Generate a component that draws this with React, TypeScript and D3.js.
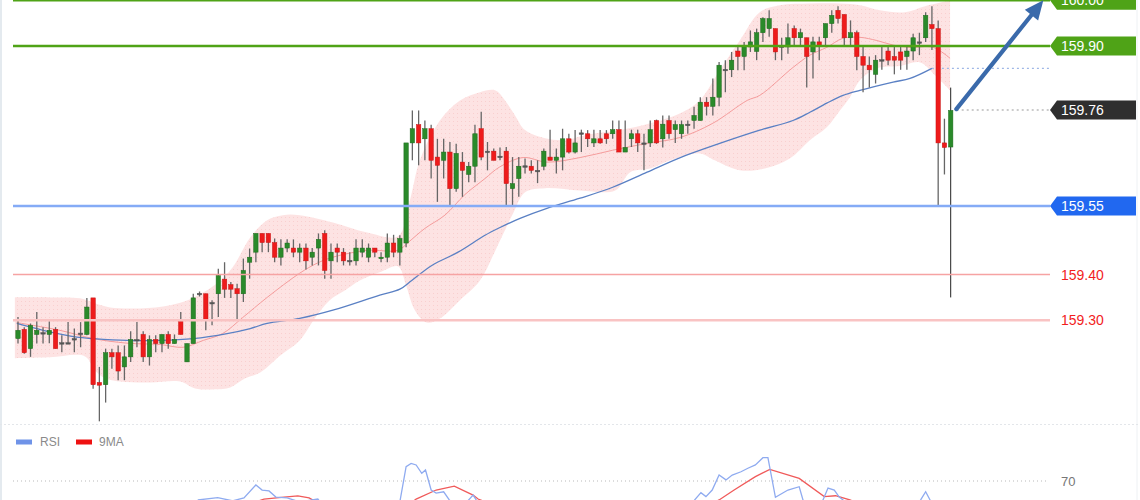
import React from "react";
import * as d3 from "d3";

// ---------- DATA ----------
const opens = [
159.260,159.280,159.238,159.269,159.272,159.269,159.280,159.251,159.250,159.259,
159.270,159.269,159.349,159.164,159.159,159.229,159.229,159.198,159.220,159.257,
159.269,159.220,159.258,159.249,159.269,159.249,159.298,159.209,159.249,159.358,
159.358,159.339,159.358,159.390,159.378,159.369,159.358,159.427,159.449,159.490,
159.490,159.470,159.438,159.458,159.458,159.449,159.458,159.438,159.458,159.490,
159.430,159.458,159.449,159.430,159.430,159.449,159.438,159.458,159.435,159.438,
159.469,159.449,159.469,159.688,159.728,159.697,159.719,159.657,159.650,159.668,
159.588,159.646,159.619,159.637,159.719,159.670,159.670,159.659,159.670,159.588,
159.610,159.637,159.637,159.628,159.637,159.657,159.650,159.657,159.697,159.668,
159.710,159.708,159.688,159.697,159.708,159.708,159.717,159.668,159.697,159.708,
159.688,159.688,159.737,159.697,159.737,159.717,159.708,159.728,159.737,159.737,
159.777,159.768,159.788,159.848,159.848,159.889,159.877,159.898,159.888,159.929,
159.938,159.938,159.899,159.898,159.938,159.918,159.918,159.887,159.909,159.918,
159.949,159.978,159.969,159.918,159.929,159.877,159.858,159.838,159.869,159.889,
159.877,159.887,159.877,159.889,159.909,159.918,159.947,159.938,159.688,159.679];

const highs = [
159.307,159.285,159.293,159.318,159.285,159.298,159.285,159.267,159.296,159.282,
159.296,159.349,159.349,159.198,159.238,159.238,159.245,159.245,159.276,159.296,
159.276,159.267,159.267,159.269,159.276,159.269,159.318,159.249,159.358,159.363,
159.358,159.344,159.413,159.427,159.384,159.380,159.435,159.457,159.490,159.490,
159.490,159.479,159.477,159.477,159.477,159.468,159.468,159.458,159.490,159.497,
159.468,159.468,159.458,159.449,159.477,159.477,159.468,159.458,159.449,159.490,
159.487,159.486,159.688,159.759,159.759,159.737,159.728,159.697,159.697,159.690,
159.686,159.668,159.646,159.728,159.756,159.690,159.676,159.678,159.679,159.657,
159.657,159.654,159.650,159.650,159.676,159.717,159.676,159.719,159.708,159.716,
159.717,159.716,159.717,159.716,159.716,159.737,159.737,159.737,159.717,159.717,
159.708,159.737,159.739,159.748,159.748,159.737,159.737,159.737,159.767,159.788,
159.788,159.829,159.865,159.869,159.887,159.898,159.909,159.934,159.938,159.963,
159.978,159.938,159.918,159.949,159.945,159.938,159.918,159.920,159.920,159.949,
159.978,159.987,159.969,159.956,159.934,159.898,159.877,159.880,159.898,159.898,
159.898,159.898,159.898,159.927,159.929,159.974,159.987,159.956,159.741,159.809];

const lows = [
159.249,159.227,159.220,159.249,159.249,159.250,159.238,159.230,159.249,159.230,
159.241,159.267,159.150,159.079,159.120,159.194,159.169,159.169,159.209,159.241,
159.209,159.201,159.230,159.230,159.238,159.249,159.269,159.209,159.249,159.352,
159.278,159.289,159.307,159.349,159.349,159.300,159.340,159.391,159.427,159.449,
159.449,159.427,159.420,159.449,159.438,159.427,159.411,159.420,159.420,159.391,
159.391,159.427,159.420,159.420,159.420,159.438,159.427,159.438,159.427,159.427,
159.438,159.420,159.460,159.650,159.639,159.650,159.610,159.559,159.610,159.551,
159.581,159.570,159.602,159.602,159.650,159.628,159.650,159.650,159.551,159.548,
159.570,159.621,159.621,159.600,159.628,159.650,159.621,159.628,159.665,159.665,
159.668,159.679,159.679,159.686,159.686,159.697,159.668,159.668,159.679,159.668,
159.628,159.679,159.686,159.678,159.697,159.688,159.697,159.708,159.719,159.737,
159.748,159.748,159.768,159.799,159.832,159.847,159.847,159.887,159.869,159.909,
159.920,159.869,159.869,159.883,159.898,159.898,159.809,159.829,159.869,159.898,
159.929,159.949,159.898,159.898,159.847,159.799,159.809,159.818,159.848,159.858,
159.838,159.848,159.848,159.869,159.880,159.909,159.891,159.548,159.619,159.350];

const closes = [
159.278,159.229,159.289,159.278,159.273,159.278,159.238,159.250,159.251,159.260,
159.272,159.329,159.159,159.158,159.229,159.220,159.189,159.220,159.258,159.258,
159.220,159.258,159.249,159.269,159.249,159.258,159.269,159.249,159.349,159.359,
159.300,159.338,159.398,159.368,159.368,159.358,159.409,159.438,159.490,159.470,
159.470,159.438,159.458,159.469,159.449,159.458,159.430,159.449,159.477,159.409,
159.449,159.449,159.430,159.431,159.458,159.458,159.458,159.449,159.438,159.469,
159.449,159.479,159.688,159.719,159.688,159.719,159.650,159.639,159.668,159.588,
159.665,159.628,159.637,159.708,159.657,159.669,159.650,159.658,159.599,159.599,
159.637,159.638,159.628,159.627,159.670,159.650,159.657,159.697,159.668,159.688,
159.709,159.697,159.697,159.688,159.697,159.717,159.668,159.678,159.708,159.688,
159.687,159.717,159.688,159.729,159.708,159.728,159.728,159.729,159.748,159.777,
159.768,159.788,159.858,159.849,159.869,159.877,159.898,159.909,159.929,159.960,
159.960,159.887,159.900,159.918,159.918,159.929,159.877,159.909,159.899,159.949,
159.967,159.960,159.918,159.929,159.877,159.858,159.848,159.869,159.870,159.869,
159.869,159.869,159.889,159.918,159.908,159.967,159.938,159.688,159.678,159.759];

// Bollinger band edges as [candle index, price]
const bandUpper: [number, number][] = [
[-0.5,159.350],[5.1,159.350],[9.9,159.348],[12.3,159.337],[14.7,159.328],[19.5,159.326],
[24.3,159.333],[27.5,159.346],[31.8,159.381],[34.3,159.416],[37.1,159.481],[39.8,159.519],
[42.3,159.530],[45.0,159.530],[50.3,159.514],[55.8,159.492],[60.7,159.484],[62.6,159.562],
[64.2,159.650],[67.4,159.737],[70.6,159.781],[73.8,159.799],[76.2,159.803],[77.8,159.781],
[79.4,159.748],[81.0,159.716],[84.2,159.698],[87.4,159.694],[90.6,159.705],[96.2,159.716],
[101.0,159.731],[105.8,159.753],[108.9,159.781],[112.1,159.847],[115.3,159.912],[118.5,159.974],
[121.7,159.989],[126.5,159.993],[131.3,159.993],[134.5,159.989],[137.7,159.978],[141.7,159.974],
[144.9,159.987],[148.9,160.000]];

const bandLower: [number, number][] = [
[-0.5,159.217],[5.1,159.219],[10.7,159.221],[12.3,159.190],[13.9,159.173],[16.3,159.166],
[21.1,159.164],[25.9,159.166],[28.3,159.151],[31.5,159.149],[33.9,159.153],[36.3,159.173],
[38.7,159.186],[41.9,159.223],[45.0,159.256],[47.4,159.304],[49.8,159.344],[52.2,159.365],
[54.6,159.387],[57.8,159.405],[60.7,159.418],[62.0,159.376],[63.4,159.322],[65.3,159.295],
[67.4,159.304],[70.6,159.344],[73.8,159.387],[76.5,159.460],[79.1,159.534],[81.0,159.580],
[84.2,159.589],[89.8,159.584],[95.4,159.584],[97.8,159.624],[101.0,159.632],[104.2,159.650],
[108.9,159.665],[111.3,159.650],[115.3,159.628],[119.3,159.632],[123.3,159.654],[126.5,159.694],
[129.2,159.722],[131.3,159.759],[132.9,159.788],[134.5,159.825],[137.2,159.851],[140.9,159.856],
[144.1,159.864],[146.5,159.836],[148.9,159.803]];

// Middle band (red) and long moving average (blue)
const maRed: [number, number][] = [
[-0.2,159.295],[6.7,159.278],[12.0,159.260],[17.4,159.250],[22.7,159.247],[26.4,159.241],
[29.6,159.256],[32.7,159.271],[35.9,159.306],[39.8,159.350],[45.0,159.403],[47.8,159.425],
[50.3,159.438],[55.8,159.453],[60.7,159.453],[62.3,159.470],[65.0,159.501],[68.2,159.530],
[71.4,159.575],[74.6,159.610],[76.9,159.635],[80.7,159.656],[84.5,159.646],[89.8,159.656],
[95.0,159.672],[100.5,159.687],[105.8,159.700],[111.0,159.731],[116.5,159.781],[118.5,159.792],
[123.8,159.853],[126.5,159.880],[129.2,159.897],[131.8,159.917],[134.5,159.919],[137.2,159.912],
[139.8,159.902],[142.5,159.897],[146.2,159.897],[148.9,159.873]];

const maBlue: [number, number][] = [
[-0.2,159.293],[4.0,159.278],[9.4,159.263],[12.0,159.260],[17.4,159.256],[22.7,159.256],
[28.0,159.260],[33.4,159.271],[37.1,159.282],[39.8,159.293],[45.0,159.304],[50.3,159.322],
[57.8,159.355],[61.0,159.368],[62.9,159.387],[66.1,159.420],[70.3,159.449],[74.6,159.486],
[77.0,159.503],[80.2,159.523],[84.5,159.545],[89.8,159.567],[95.0,159.591],[100.5,159.624],
[105.8,159.656],[112.1,159.687],[118.5,159.716],[123.8,159.737],[126.5,159.755],[129.2,159.775],
[131.8,159.792],[134.5,159.803],[139.8,159.821],[142.5,159.829],[146.0,159.851]];

// RSI panel
const rsi: [number, number][] = [
[0,45],[27.5,55],[28.8,61.4],[31.9,62.4],[34.3,61.0],[36.1,62.3],[38.0,68.2],[39.0,65.9],
[40.1,65.5],[41.2,62.7],[43.0,62.3],[45.0,60.5],[47.9,61.8],[49.8,55],[57.8,50],[61.0,60.5],
[62.0,76.5],[62.8,78.0],[63.6,77.3],[64.5,73.5],[65.1,75.0],[66.0,65.9],[66.8,64.5],[68.0,65.1],
[68.9,61.4],[70.6,57],[72.7,63.6],[73.2,61.4],[75.4,55],[93,55],[107.3,58],[108.1,61.4],
[109.1,64.7],[109.9,62.9],[110.9,65.9],[112.0,72.7],[113.1,70.5],[114.1,72.7],[115.5,74.2],
[116.6,75.8],[117.8,77.3],[119.0,80.6],[119.8,80.6],[121.0,62.6],[123.0,65.9],[124.8,67.4],
[125.4,61.4],[126.8,56],[128.6,61.4],[129.4,66.8],[130.4,65.9],[131.2,62.7],[131.8,61.4],
[132.9,57],[143.3,58],[144.2,61.4],[145.0,65.1],[145.7,61.4],[146.6,52],[147.6,35],[148.9,42]];

const rsiMA: [number, number][] = [
[0,50],[35.5,58],[39.3,61.8],[42.5,62.7],[44.7,63.2],[46.5,62.3],[47.4,60.9],[51.4,58],
[61,56],[63.6,61.8],[66.8,65.9],[69.7,67.7],[72.7,63.6],[73.5,61.8],[77,58],[108.9,57],
[112,61.4],[114.4,65.9],[117.8,72.0],[120.1,75.3],[124.8,71.2],[128.8,62.9],[130.6,63.3],
[132.9,61.4],[136.1,58],[148.9,54]];

const levelValues = [160.0, 159.9, 159.55, 159.4, 159.3];
const levelLabels = ["160.00", "159.90", "159.55", "159.40", "159.30"];
const lastPrice = 159.76;
const lastLabel = "159.76";
const rsiLevel = 70;
const rsiLevelLabel = "70";
const legendNames = ["RSI", "9MA"];
// annotation arrow: [candle index, price] from / to
const arrowFrom: [number, number] = [149.9, 159.762];
const arrowTo: [number, number] = [163.8, 160.0];

// ---------- STYLES ----------
const GREEN_LVL = "#4fa317";
const BLUE_LVL = "#85abf6";
const BLUE_BOX = "#2168f0";
const RED_TXT = "#f21d1d";
const FONT = "'Liberation Sans', Arial, sans-serif";

export default function App() {
  const W = 1140, H = 500;
  const x = d3.scaleLinear().domain([0, 149]).range([18, 950.7]);
  const y = d3.scaleLinear().domain([159.9, 159.55]).range([46, 206]);
  const ry = d3.scaleLinear().domain([0, 100]).range([635, 415]);

  const lineP = d3.line<[number, number]>().x(d => x(d[0])).y(d => y(d[1])).curve(d3.curveCatmullRom);
  const lineR = d3.line<[number, number]>().x(d => x(d[0])).y(d => ry(d[1])).curve(d3.curveLinear);

  const upPath = lineP(bandUpper) as string;
  const loPath = lineP(bandLower.slice().reverse()) as string;
  const bandPath = upPath + "L" + loPath.slice(1) + "Z";

  const bodyW = 4.4;
  const labelX = 1050;

  const boxLabel = (yy: number, text: string, fill: string, key: string) => (
    <g key={key}>
      <path d={`M${labelX},${yy} L${labelX + 7},${yy - 9.5} L1136,${yy - 9.5} L1136,${yy + 9.5} L${labelX + 7},${yy + 9.5} Z`} fill={fill} />
      <text x={1061} y={yy} dy="0.36em" fill="#fff" fontSize={14} fontFamily={FONT}>{text}</text>
    </g>
  );

  // arrow geometry
  const ax0 = x(arrowFrom[0]), ay0 = y(arrowFrom[1]);
  const ax1 = x(arrowTo[0]), ay1 = y(arrowTo[1]);
  const len = Math.hypot(ax1 - ax0, ay1 - ay0);
  const ux = (ax1 - ax0) / len, uy = (ay1 - ay0) / len;
  const hl = 19, hw = 8.5;
  const bx = ax1 - ux * hl, by = ay1 - uy * hl;
  const head = `M${ax1},${ay1} L${bx - uy * hw},${by + ux * hw} L${bx + uy * hw},${by - ux * hw} Z`;

  const lastBlue = maBlue[maBlue.length - 1];

  return (
    <svg width={W} height={H} style={{ position: "absolute", left: 0, top: 0, background: "#fff" }}>
      <defs>
        <clipPath id="main"><rect x={0} y={0} width={W} height={424} /></clipPath>
        <clipPath id="rsiClip"><rect x={0} y={430} width={W} height={70} /></clipPath>
        <pattern id="dots" width="4" height="4" patternUnits="userSpaceOnUse">
          <rect width="4" height="4" fill="#fde3e3" />
          <rect x="1" y="1" width="1" height="1" fill="#f9cfcf" />
        </pattern>
      </defs>
      <rect x={0} y={0} width={W} height={H} fill="#fff" />
      <line x1={1} y1={0} x2={1} y2={H} stroke="#e4eaef" strokeWidth={2} />
      <line x1={1137} y1={0} x2={1137} y2={H} stroke="#eef1f4" strokeWidth={1} />

      <g clipPath="url(#main)">
        <path d={bandPath} fill="url(#dots)" />
        <path d={lineP(maRed) as string} fill="none" stroke="#f59c9c" strokeWidth={1} />
        <path d={lineP(maBlue) as string} fill="none" stroke="#5a80c4" strokeWidth={1.3} />
        <line x1={x(lastBlue[0])} x2={labelX} y1={y(lastBlue[1])} y2={y(lastBlue[1])} stroke="#9fb7e6" strokeWidth={1.3} strokeDasharray="2,3" />

        {opens.map((o, i) => {
          const c = closes[i];
          const up = c > o;
          const doji = Math.abs(c - o) < 0.0025;
          const cx = x(i);
          const top = y(Math.max(o, c));
          const bot = y(Math.min(o, c));
          const fill = doji ? "#555" : up ? "#2a8a2a" : "#ee1b1b";
          const stroke = doji ? "#555" : up ? "#1d6a1d" : "#c51414";
          return (
            <g key={i}>
              <line x1={cx} x2={cx} y1={y(highs[i])} y2={y(lows[i])} stroke={i === 149 ? "#222" : "#666"} strokeWidth={i === 149 ? 1 : 1.3} />
              <rect x={cx - bodyW / 2} y={top} width={bodyW} height={Math.max(1.5, bot - top)} fill={fill} stroke={stroke} strokeWidth={0.5} />
            </g>
          );
        })}

        {levelValues.map((v, i) => {
          const col = i < 2 ? GREEN_LVL : i === 2 ? BLUE_LVL : i === 3 ? "#f6a3a3" : "#f9c3c3";
          const sw = i < 2 ? 2.6 : i === 2 ? 2.6 : i === 3 ? 1.4 : 2.6;
          return <line key={"l" + i} x1={13} x2={labelX} y1={y(v)} y2={y(v)} stroke={col} strokeWidth={sw} />;
        })}

        <line x1={x(149) + 6} x2={labelX} y1={y(lastPrice)} y2={y(lastPrice)} stroke="#9a9a9a" strokeWidth={1.2} strokeDasharray="2,3" />

        <line x1={ax0} y1={ay0} x2={bx + ux * 2} y2={by + uy * 2} stroke="#3a6aab" strokeWidth={4.2} strokeLinecap="round" />
        <path d={head} fill="#3a6aab" />
      </g>

      {boxLabel(y(levelValues[0]), levelLabels[0], GREEN_LVL, "b0")}
      {boxLabel(y(levelValues[1]), levelLabels[1], GREEN_LVL, "b1")}
      {boxLabel(y(levelValues[2]), levelLabels[2], BLUE_BOX, "b2")}
      {boxLabel(y(lastPrice), lastLabel, "#2f2f2f", "b3")}
      <text x={1061} y={y(levelValues[3])} dy="0.36em" fill={RED_TXT} fontSize={14} fontFamily={FONT}>{levelLabels[3]}</text>
      <text x={1061} y={y(levelValues[4])} dy="0.36em" fill={RED_TXT} fontSize={14} fontFamily={FONT}>{levelLabels[4]}</text>

      {/* separator */}
      <line x1={0} x2={W} y1={424.5} y2={424.5} stroke="#e3e6ea" strokeWidth={1} strokeDasharray="2,2" />

      {/* RSI legend */}
      <rect x={16} y={439.5} width={16} height={5} fill="#6f93e8" />
      <text x={40} y={442} dy="0.35em" fill="#8a8a8a" fontSize={12} fontFamily={FONT}>{legendNames[0]}</text>
      <rect x={76} y={439.5} width={16} height={5} fill="#ee1111" />
      <text x={99} y={442} dy="0.35em" fill="#8a8a8a" fontSize={12} fontFamily={FONT}>{legendNames[1]}</text>

      <line x1={13} x2={1048} y1={ry(rsiLevel)} y2={ry(rsiLevel)} stroke="#b9b9b9" strokeWidth={1} strokeDasharray="1,3" />
      <text x={1061} y={ry(rsiLevel)} dy="0.36em" fill="#777" fontSize={13} fontFamily={FONT}>{rsiLevelLabel}</text>

      <g clipPath="url(#rsiClip)">
        <path d={lineR(rsiMA) as string} fill="none" stroke="#f05a5a" strokeWidth={1.3} />
        <path d={lineR(rsi) as string} fill="none" stroke="#8fabf0" strokeWidth={1.3} />
      </g>
    </svg>
  );
}
